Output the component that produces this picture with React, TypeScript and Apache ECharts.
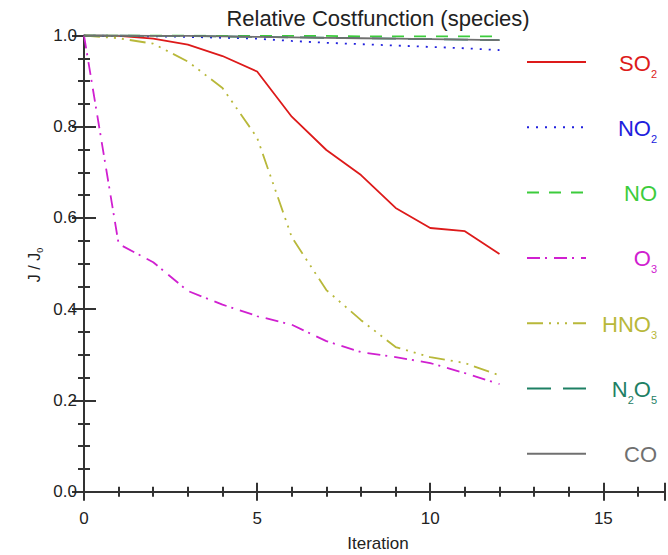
import React, { useEffect, useRef } from "react";
import * as echarts from "echarts";

const iterations = [0, 1, 2, 3, 4, 5, 6, 7, 8, 9, 10, 11, 12];
const so2 = [1.0, 0.999, 0.993, 0.98, 0.955, 0.921, 0.822, 0.749, 0.694, 0.622, 0.578, 0.571, 0.521];
const no2 = [1.0, 0.999, 0.998, 0.997, 0.995, 0.993, 0.988, 0.984, 0.981, 0.978, 0.975, 0.972, 0.968];
const no = [1.0, 1.0, 1.0, 1.0, 0.999, 0.999, 0.999, 0.999, 0.998, 0.998, 0.998, 0.998, 0.998];
const o3 = [1.0, 0.543, 0.503, 0.44, 0.41, 0.385, 0.366, 0.33, 0.306, 0.295, 0.282, 0.26, 0.236];
const hno3 = [1.0, 0.994, 0.982, 0.943, 0.885, 0.776, 0.558, 0.442, 0.376, 0.317, 0.295, 0.282, 0.255];
const n2o5 = [1.0, 1.0, 0.999, 0.999, 0.998, 0.997, 0.996, 0.995, 0.994, 0.993, 0.992, 0.991, 0.99];
const co = [1.0, 1.0, 0.999, 0.999, 0.998, 0.997, 0.996, 0.995, 0.994, 0.993, 0.992, 0.991, 0.99];

const speciesNames = ["SO2", "NO2", "NO", "O3", "HNO3", "N2O5", "CO"];
const speciesLabels = [
  "{m|SO}{s|2}",
  "{m|NO}{s|2}",
  "{m|NO}",
  "{m|O}{s|3}",
  "{m|HNO}{s|3}",
  "{m|N}{s|2}{m|O}{s|5}",
  "{m|CO}",
];
const speciesData = [so2, no2, no, o3, hno3, n2o5, co];
const colors = ["#dd1a1a", "#2020dd", "#3ccc3c", "#d020d0", "#b8b83a", "#1e8064", "#707070"];
const dashes: (number[] | null)[] = [
  null,
  [2, 7],
  [12, 10],
  [13, 5, 2, 7],
  [16, 6, 2, 6, 2, 6, 2, 6],
  [24, 12],
  null,
];

const X_MAX = 16.78;
const FONT = "'Liberation Sans', Arial, Helvetica, sans-serif";
const AXC = "#333";

export default function App() {
  const ref = useRef<HTMLDivElement>(null);
  useEffect(() => {
    if (!ref.current) return;
    const chart = echarts.init(ref.current, undefined, { renderer: "svg" });

    const tickAxisX = (position: string, interval: number, len: number, main: boolean) => ({
      type: "value",
      min: 0,
      max: X_MAX,
      interval,
      position,
      axisLine: { show: main, lineStyle: { color: AXC, width: 2 } },
      axisTick: { show: true, inside: true, length: len, lineStyle: { color: AXC, width: 2 } },
      axisLabel:
        main && position === "bottom"
          ? {
              show: true,
              margin: 18,
              fontSize: 17,
              color: "#222",
              fontFamily: FONT,
              formatter: (v: number) => (Math.abs(v % 5) < 1e-9 ? String(v) : ""),
            }
          : { show: false },
      splitLine: { show: false },
    });
    const tickAxisY = (position: string, interval: number, len: number, main: boolean) => ({
      type: "value",
      min: 0,
      max: 1,
      interval,
      position,
      offset: position === "right" ? 6 : 0,
      axisLine: { show: main && position === "left", lineStyle: { color: AXC, width: 2 } },
      axisTick: { show: true, inside: true, length: len, lineStyle: { color: AXC, width: 2 } },
      axisLabel:
        main && position === "left"
          ? {
              show: true,
              margin: 7,
              fontSize: 17,
              color: "#222",
              fontFamily: FONT,
              formatter: (v: number) => v.toFixed(1),
            }
          : { show: false },
      splitLine: { show: false },
    });

    const legendGraphics: any[] = [];
    speciesNames.forEach((name, i) => {
      const y = 62 + i * 65.3;
      legendGraphics.push({
        type: "line",
        shape: { x1: 527, y1: y, x2: 586, y2: y },
        style: {
          stroke: colors[i],
          lineWidth: 2,
          lineDash: dashes[i] || undefined,
        },
      });
      legendGraphics.push({
        type: "text",
        x: 657,
        y: y + 1,
        style: {
          text: speciesLabels[i],
          align: "right",
          verticalAlign: "middle",
          fill: colors[i],
          rich: {
            m: { fontSize: 22, fontFamily: FONT, fill: colors[i], color: colors[i], lineHeight: 26, verticalAlign: "middle" },
            s: { fontSize: 11, fontFamily: FONT, fill: colors[i], color: colors[i], lineHeight: 12, verticalAlign: "bottom", padding: [0, 0, -3, 0] },
          },
        },
      });
    });

    chart.setOption({
      animation: false,
      backgroundColor: "#fff",
      grid: { left: 84, top: 35.5, right: 0, bottom: 63.3, containLabel: false },
      xAxis: [
        tickAxisX("bottom", 5, 9, true),
        tickAxisX("bottom", 1, 5, false),
        tickAxisX("top", 5, 9, true),
        tickAxisX("top", 1, 5, false),
      ],
      yAxis: [
        tickAxisY("left", 0.2, 12, true),
        tickAxisY("left", 0.05, 6, false),
        tickAxisY("right", 0.2, 12, true),
        tickAxisY("right", 0.05, 6, false),
      ],
      series: speciesNames.map((name, i) => ({
        name,
        type: "line",
        xAxisIndex: 0,
        yAxisIndex: 0,
        showSymbol: false,
        symbol: "none",
        data: iterations.map((it, k) => [it, speciesData[i][k]]),
        lineStyle: { color: colors[i], width: 1.8, type: dashes[i] ? dashes[i] : "solid" },
      })),
      graphic: [
        {
          type: "text",
          x: 378,
          y: 18,
          style: {
            text: "Relative Costfunction (species)",
            align: "center",
            verticalAlign: "middle",
            fontSize: 22,
            fontFamily: FONT,
            fill: "#222",
          },
        },
        {
          type: "text",
          x: 378,
          y: 543,
          style: {
            text: "Iteration",
            align: "center",
            verticalAlign: "middle",
            fontSize: 17,
            fontFamily: FONT,
            fill: "#222",
          },
        },
        {
          type: "text",
          x: 34,
          y: 265,
          rotation: Math.PI / 2,
          style: {
            text: "{n|J / J}{s|0}",
            align: "center",
            verticalAlign: "middle",
            fill: "#222",
            rich: {
              n: { fontSize: 16, fontFamily: FONT, fill: "#222", color: "#222", lineHeight: 20, verticalAlign: "middle" },
              s: { fontSize: 9, fontFamily: FONT, fill: "#222", color: "#222", lineHeight: 10, verticalAlign: "bottom" },
            },
          },
        },
        ...legendGraphics,
      ],
    });
    return () => chart.dispose();
  }, []);
  return <div ref={ref} style={{ width: 668, height: 555, position: "absolute", left: 0, top: 0 }} />;
}
